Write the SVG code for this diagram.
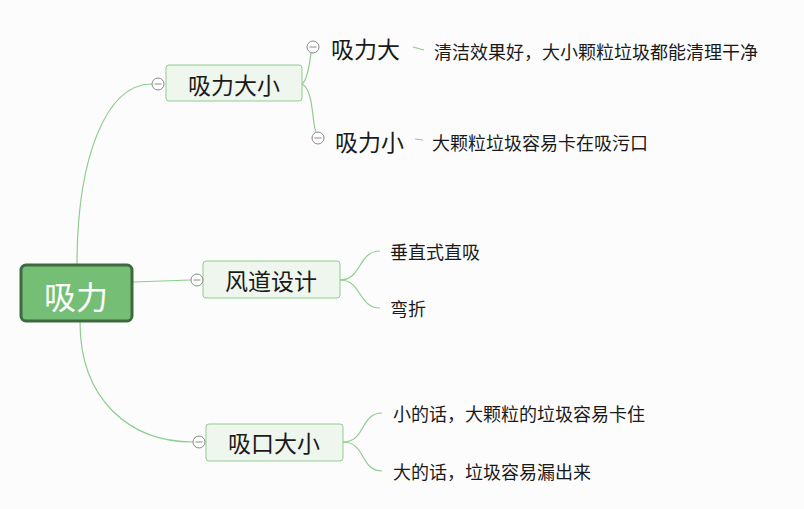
<svg xmlns="http://www.w3.org/2000/svg" width="804" height="509" viewBox="0 0 804 509">
<style>
text{font-family:"Noto Sans CJK SC","Microsoft YaHei",sans-serif;fill:#1a1a1a;dominant-baseline:central}
.sub rect{fill:#eef6ee;stroke:#8fcc8f;stroke-width:1}
.sub text{font-size:23px;text-anchor:middle}
.leaf{font-size:18px}
.big{font-size:23px}
.conn path{fill:none;stroke:#8fcc8f;stroke-width:1.2}
</style>
<defs>
<g id="minus"><circle cx="0" cy="0" r="6" fill="#ffffff" stroke="#8a8a8a" stroke-width="1"/><line x1="-3.5" y1="0" x2="3.5" y2="0" stroke="#8a8a8a" stroke-width="1"/></g>
</defs>
<rect x="0" y="0" width="804" height="509" fill="#fcfcfc"/>
<g class="conn" id="connectors">
<path d="M77,265 C77,160 105,84 152,84"/>
<path d="M133,282 L191,280"/>
<path d="M80,322 C80,400 130,442 193,442"/>
<path d="M302,84 C308,80 310,60 311,53"/>
<path d="M302,84 C314,90 312,125 316,132"/>
<path d="M413,47 L424,50"/>
<path d="M415,139 L423,140"/>
<path d="M340,280 C362,280 358,251 380,251"/>
<path d="M340,280 C362,280 358,308 380,308"/>
<path d="M343,442 C366,442 360,413 382,413"/>
<path d="M343,442 C366,442 360,471 382,471"/>
</g>
<g id="root">
<rect x="21" y="265" width="111" height="56" rx="5" fill="#74bf75" stroke="#3e6a3f" stroke-width="3"/>
<text x="76" y="295" font-size="32" text-anchor="middle" style="fill:#fff">吸力</text>
</g>
<g id="n1" class="sub">
<rect x="166" y="65" width="136" height="36" rx="3"/>
<text x="234" y="84">吸力大小</text>
</g>
<g id="n2" class="sub">
<rect x="203" y="261" width="137" height="37" rx="3"/>
<text x="271" y="280">风道设计</text>
</g>
<g id="n3" class="sub">
<rect x="206" y="424" width="137" height="37" rx="3"/>
<text x="274" y="442">吸口大小</text>
</g>
<g id="toggles">
<use href="#minus" x="158" y="84"/>
<use href="#minus" x="313" y="47"/>
<use href="#minus" x="318" y="138"/>
<use href="#minus" x="197" y="280"/>
<use href="#minus" x="199" y="442"/>
</g>
<g id="n1a"><text class="big" x="331" y="48">吸力大</text></g>
<g id="n1a1"><text class="leaf" x="434" y="51">清洁效果好，大小颗粒垃圾都能清理干净</text></g>
<g id="n1b"><text class="big" x="335" y="141">吸力小</text></g>
<g id="n1b1"><text class="leaf" x="432" y="142">大颗粒垃圾容易卡在吸污口</text></g>
<g id="n2a"><text class="leaf" x="390" y="251">垂直式直吸</text></g>
<g id="n2b"><text class="leaf" x="390" y="308">弯折</text></g>
<g id="n3a"><text class="leaf" x="393" y="413">小的话，大颗粒的垃圾容易卡住</text></g>
<g id="n3b"><text class="leaf" x="393" y="471">大的话，垃圾容易漏出来</text></g>
</svg>
